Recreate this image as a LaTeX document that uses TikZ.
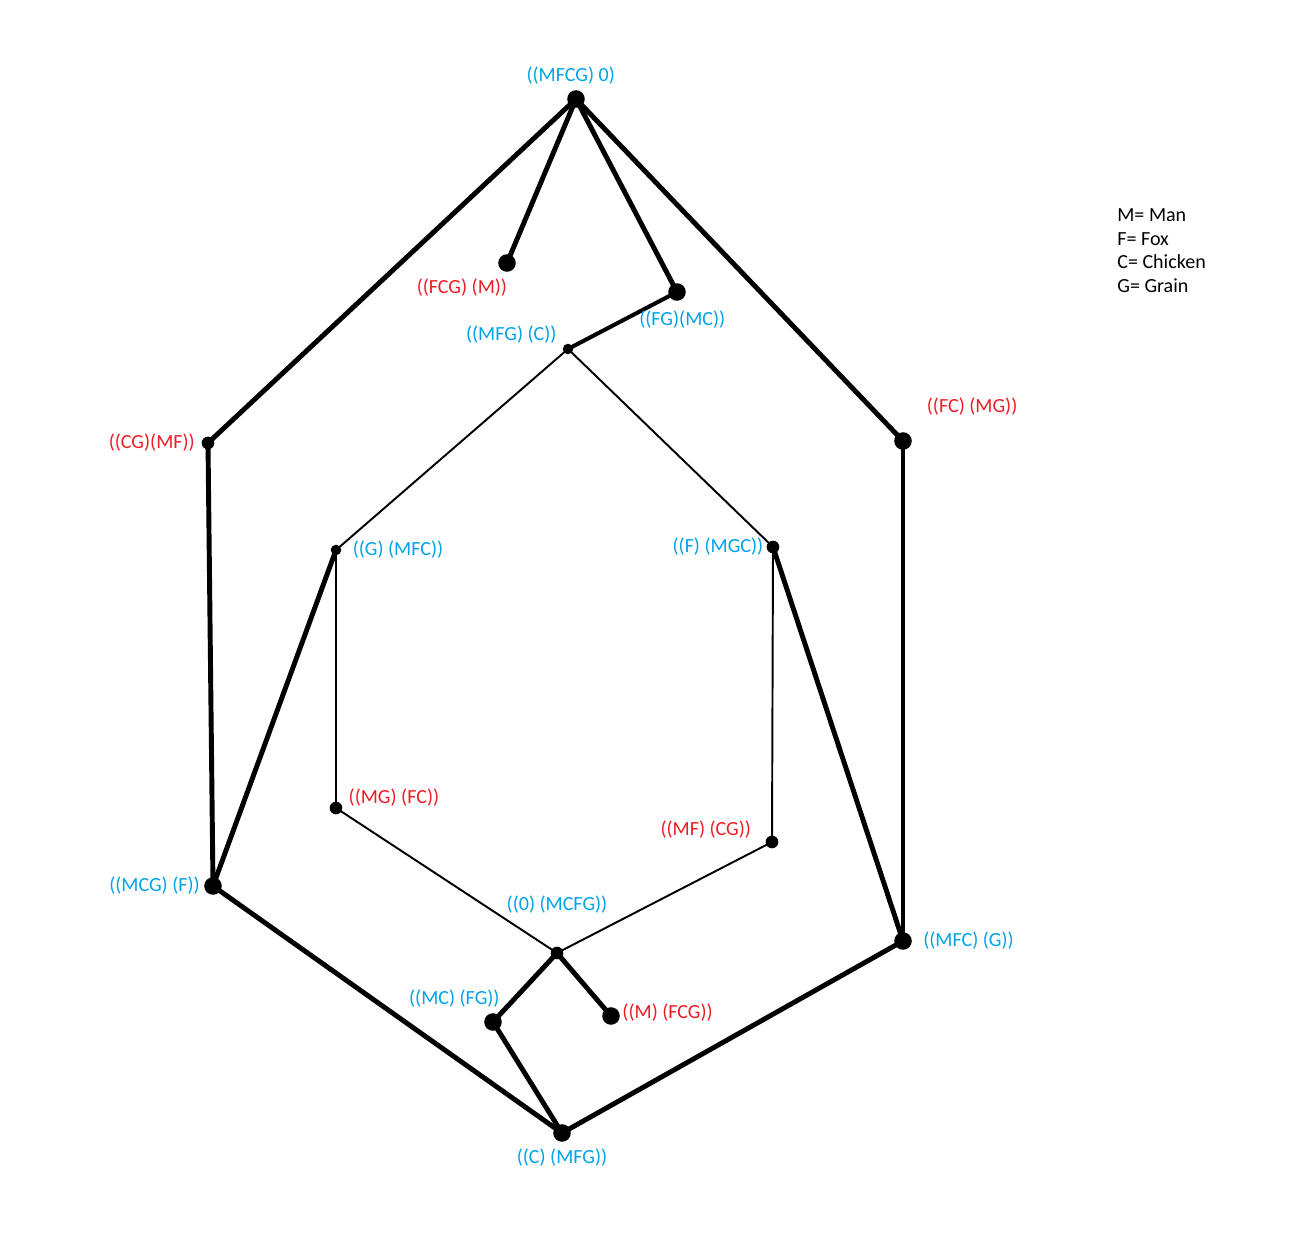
\documentclass[tikz,border=0pt]{standalone}
\usepackage{fontspec}
\setmainfont{Carlito}
\usepackage{tkz-euclide}
\definecolor{tblue}{RGB}{0,162,232}
\definecolor{tred}{RGB}{237,28,36}
\tikzset{statelab/.style={font=\fontsize{11.4pt}{13.6pt}\selectfont}}

\begin{document}
\begin{tikzpicture}[font=\fontsize{11.4pt}{13.6pt}\selectfont]
    \useasboundingbox (0,0) rectangle (26.16,24.88);
    % states, named by what is on the left bank
    \tkzDefPoints{11.52/22.90/MFCG, 10.14/19.62/FCG, 13.54/19.04/FG, 11.36/17.90/MFG}
    \tkzDefPoints{4.16/16.02/CG, 18.06/16.06/FC, 6.72/13.88/G, 15.46/13.94/F}
    \tkzDefPoints{6.72/8.72/MG, 15.44/8.04/MF, 4.26/7.16/MCG, 18.06/6.06/MFC}
    \tkzDefPoints{11.14/5.82/E, 9.86/4.44/MC, 12.22/4.56/M, 11.24/2.22/C}
    \tkzDefPoints{22.34/20.72/K}

    % \tkzDrawX
    \tkzDrawSegments[line width=2.8pt](MFCG,FCG MFCG,FG MFCG,CG MFCG,FC CG,MCG FC,MFC G,MCG F,MFC MCG,C MFC,C E,MC E,M MC,C)
    \tkzDrawSegments[line width=2.3pt](FG,MFG)
    \tkzDrawSegments[line width=1.1pt](MFG,G MFG,F G,MG F,MF MG,E MF,E)
    \foreach \p in {MFCG, FCG, FG, FC, MFC, MC, M, C, MCG}
        \fill (\p) circle (5pt);
    \foreach \p in {CG, MF, MG, F, E}
        \fill (\p) circle (3.6pt);
    \foreach \p in {MFG, G}
        \fill (\p) circle (3pt);

    \tkzLabelPoint[statelab, above=5pt, xshift=-3pt, tblue](MFCG){((MFCG) 0)}
    \tkzLabelPoint[statelab, below left=2pt, xshift=5pt, yshift=-4pt, tred](FCG){((FCG) (M))}
    \tkzLabelPoint[statelab, below=7pt, xshift=3pt, tblue](FG){((FG)(MC))}
    \tkzLabelPoint[statelab, above left=0pt, xshift=-3pt, tblue](MFG){((MFG) (C))}
    \tkzLabelPoint[statelab, left=4pt, tred](CG){((CG)(MF))}
    \tkzLabelPoint[statelab, above right=10pt, xshift=3pt, yshift=4pt, tred](FC){((FC) (MG))}
    \tkzLabelPoint[statelab, right=6pt, tblue](G){((G) (MFC))}
    \tkzLabelPoint[statelab, left=2pt, tblue](F){((F) (MGC))}
    \tkzLabelPoint[statelab, above right=1pt, xshift=3pt, yshift=-3pt, tred](MG){((MG) (FC))}
    \tkzLabelPoint[statelab, above left=2pt, xshift=-7pt, yshift=-3pt, tred](MF){((MF) (CG))}
    \tkzLabelPoint[statelab, left=4pt, tblue](MCG){((MCG) (F))}
    \tkzLabelPoint[statelab, right=8pt, tblue](MFC){((MFC) (G))}
    \tkzLabelPoint[statelab, above=19pt, tblue](E){((0) (MCFG))}
    \tkzLabelPoint[statelab, above=5pt, xshift=-22pt, tblue](MC){((MC) (FG))}
    \tkzLabelPoint[statelab, right=3pt, yshift=2pt, tred](M){((M) (FCG))}
    \tkzLabelPoint[statelab, below=5.5pt, tblue](C){((C) (MFG))}

    % key
    \node[anchor=north west, align=left, inner sep=0pt] (key) at (K)
        {M= Man\\F= Fox\\C= Chicken\\G= Grain};
\end{tikzpicture}
\end{document}
